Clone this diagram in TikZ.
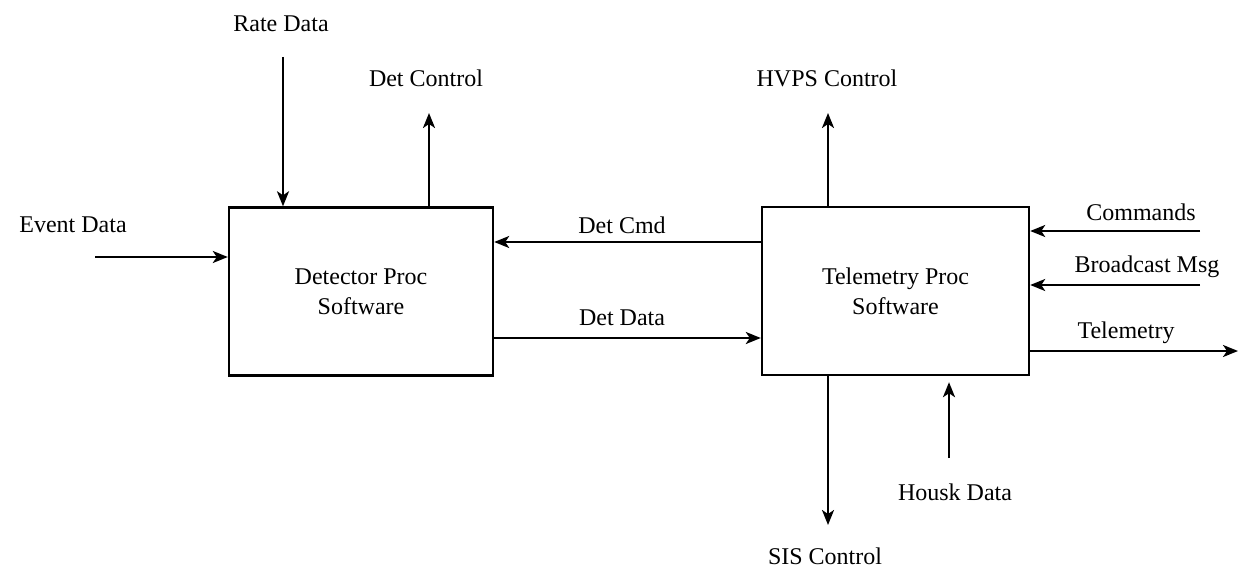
\documentclass[tikz,border=0pt]{standalone}
\usepackage{fontspec}
\setmainfont{Liberation Serif}
\usetikzlibrary{arrows.meta}
\begin{document}
\begin{tikzpicture}[x=1pt,y=-1pt,
  lbl/.style={font=\fontsize{24}{28}\selectfont, inner sep=0pt},
  procbox/.style={draw, line width=2.4pt, minimum width=264pt, minimum height=168pt, align=center, font=\fontsize{24}{30}\selectfont, inner sep=0pt},
  flow/.style={line width=2.4pt, -{Stealth[length=15pt,width=12pt,inset=4pt]}}]
\useasboundingbox (0,0) rectangle (1238,567);
\node[procbox] (det) at (361,291.5) {Detector Proc\\Software};
\node[procbox, minimum width=267pt] (tel) at (895.5,291) {Telemetry Proc\\Software};
% labels
\node[lbl] (rate) at (281,24) {Rate Data};
\node[lbl] (detc) at (426,78) {Det Control};
\node[lbl] (event) at (73,225) {Event Data};
\node[lbl] (hvps) at (827,78) {HVPS Control};
\node[lbl] (cmdl) at (622,225) {Det Cmd};
\node[lbl] (datl) at (622,318) {Det Data};
\node[lbl] (cmds) at (1141,212) {Commands};
\node[lbl] (bcast) at (1147,267) {Broadcast Msg};
\node[lbl] (telem) at (1126,333) {Telemetry};
\node[lbl] (sis) at (825,556) {SIS Control};
\node[lbl] (housk) at (955,492) {Housk Data};
% free ends
\coordinate (rateS) at (283,57);
\coordinate (detcE) at (429,113);
\coordinate (eventS) at (95,257);
\coordinate (hvpsE) at (828,113);
\coordinate (cmdsS) at (1200,231);
\coordinate (bcastS) at (1200,285);
\coordinate (telemE) at (1238,351);
\coordinate (sisE) at (828,525);
\coordinate (houskS) at (949,458);
% connectors
\draw[flow] (rateS) -- (rateS |- det.north);
\draw[flow] (detcE |- det.north) -- (detcE);
\draw[flow] (eventS) -- (eventS -| det.west);
\draw[flow] (hvpsE |- tel.north) -- (hvpsE);
\draw[flow] (tel.west |- 0,242) -- (det.east |- 0,242);
\draw[flow] (det.east |- 0,338) -- (tel.west |- 0,338);
\draw[flow] (cmdsS) -- (cmdsS -| tel.east);
\draw[flow] (bcastS) -- (bcastS -| tel.east);
\draw[flow] (tel.east |- telemE) -- (telemE);
\draw[flow] (sisE |- tel.south) -- (sisE);
\draw[flow] (houskS) -- ([yshift=-6pt]houskS |- tel.south);
\end{tikzpicture}
\end{document}
